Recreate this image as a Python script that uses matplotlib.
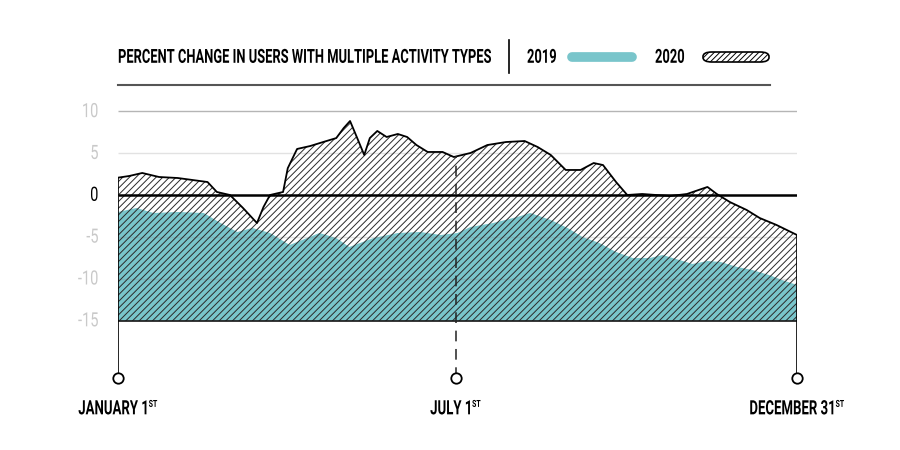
import matplotlib
matplotlib.use('Agg')
import matplotlib.pyplot as plt
from matplotlib.patches import FancyBboxPatch
from matplotlib.lines import Line2D
from matplotlib.patheffects import AbstractPathEffect
from matplotlib.transforms import Affine2D

plt.rcParams['font.family'] = ['Roboto', 'DejaVu Sans']
plt.rcParams['hatch.linewidth'] = 0.7

# day of year -> percent change
days_2020 = [0, 6, 13, 22, 32, 40, 48, 53, 60, 67, 74.5, 78, 81.5, 88.5, 91, 96,
             103, 110, 117, 121, 124.4, 128, 132, 135, 139, 144, 150, 155, 160,
             166, 174, 180, 189, 198, 208, 218, 225, 232, 240, 248, 255, 260,
             267, 273, 281, 296, 305, 316, 321, 328, 337, 344, 353, 364]
vals_2020 = [2.07, 2.27, 2.63, 2.15, 2.03, 1.79, 1.55, 0.36, 0.0, -1.55, -3.35,
             -1.43, 0.0, 0.36, 3.2, 5.5, 5.85, 6.33, 6.8, 8.0, 8.84, 6.93, 4.78,
             6.8, 7.65, 6.93, 7.29, 6.93, 5.97, 5.14, 5.14, 4.54, 5.02, 5.97,
             6.33, 6.45, 5.73, 4.78, 2.99, 2.99, 3.82, 3.58, 1.55, 0.0, 0.12,
             -0.12, 0.12, 0.96, 0.12, -0.84, -1.79, -2.75, -3.58, -4.78]

days_2019 = [0, 10, 19, 32, 46, 55, 64, 72, 81.5, 92, 96, 108, 117, 124, 137,
             150, 162, 173, 182, 189, 201, 214, 221, 232, 241, 249, 258, 267,
             276, 285, 292, 301, 308, 316, 323, 332, 340, 349, 356, 364]
vals_2019 = [-2.03, -1.55, -2.15, -2.03, -2.15, -3.35, -4.42, -3.94, -4.54,
             -5.97, -5.62, -4.54, -5.14, -6.21, -5.14, -4.54, -4.42, -4.78,
             -4.54, -3.82, -3.35, -2.63, -2.15, -2.99, -3.94, -5.02, -5.73,
             -6.81, -7.53, -7.53, -7.17, -7.77, -8.24, -7.89, -8.0, -8.6,
             -8.96, -9.56, -10.16, -10.75]

ytick_vals = [10, 5, 0, -5, -10, -15]
date_days = [0, 181, 364]
date_labels = ['JANUARY 1', 'JULY 1', 'DECEMBER 31']
title = 'PERCENT CHANGE IN USERS WITH MULTIPLE ACTIVITY TYPES'

TEAL = '#79c5cb'
W, H = 900, 450


class Tall(AbstractPathEffect):
    """draw the glyphs stretched vertically (fakes a condensed face)"""
    def __init__(self, sy):
        super().__init__()
        self.sy = sy

    def draw_path(self, renderer, gc, tpath, affine, rgbFace=None):
        ext = tpath.get_extents()
        cy = (ext.y0 + ext.y1) / 2
        tr = Affine2D().translate(0, -cy).scale(1, self.sy).translate(0, cy) + affine
        renderer.draw_path(gc, tpath, tr, rgbFace)


def fx(px):
    return px / W


def fy(py):
    return 1 - py / H


fig = plt.figure(figsize=(9, 4.5), dpi=100)
ax = fig.add_axes([fx(118), fy(390), fx(797) - fx(118), fy(100) - fy(390)])
ax.set_xlim(0, 364)
ax.set_ylim(-23.3, 11.35)
ax.axis('off')

base = -15

# grid
ax.hlines(10, 0, 364, color='#b5b5b5', lw=1, zorder=0)
ax.hlines(5, 0, 364, color='#e2e2e2', lw=1, zorder=0)

# 2019 teal area
ax.fill_between(days_2019, base, vals_2019, facecolor=TEAL, lw=0, zorder=1)
ax.hlines([-5, -10], 0, 364, color='#888888', lw=1, alpha=0.25, zorder=2)

# 2020 hatched area
ax.fill_between(days_2020, base, vals_2020, facecolor='none', edgecolor='#2a2a2a',
                hatch='/////', lw=0, zorder=3)
ax.plot(days_2020, vals_2020, color='black', lw=1.3, zorder=5)

ax.hlines(0, 0, 364, color='black', lw=1.8, zorder=6)
ax.hlines(base, 0, 364, color='black', lw=1.1, zorder=6)

# stems + circles
circ_y = -21.86
ax.vlines(0, circ_y, vals_2020[0], color='black', lw=1.2, zorder=6)
ax.vlines(364, circ_y, vals_2020[-1], color='black', lw=1.2, zorder=6)
ax.plot([181, 181], [circ_y, 4.6], color='#222222', lw=1.1, ls=(0, (7, 5)), zorder=6)
ax.plot(date_days, [circ_y] * 3, 'o', ms=7.5, mfc='white', mec='black', mew=1.3,
        zorder=7, clip_on=False)

# y labels
for v in ytick_vals:
    ax.text(-10.5, v, str(v), ha='right', va='center', fontsize=10.5,
            color='black' if v == 0 else '#c9c9c9', path_effects=[Tall(1.35)])

# date labels
for d, lab in zip(date_days, date_labels):
    t = ax.annotate(lab, xy=(d, circ_y), xytext=(-3, -22), textcoords='offset points',
                    ha='center', va='center', fontsize=9.5, fontweight='bold',
                    path_effects=[Tall(1.5)])
    ax.annotate('ST', xy=(1, 1), xycoords=t, xytext=(-0.5, 1.5), textcoords='offset points',
                ha='left', va='top', fontsize=5, fontweight='bold',
                path_effects=[Tall(1.4)])

# header
hdr = dict(va='center', fontsize=9.3, fontweight='bold', path_effects=[Tall(1.5)])
fig.text(fx(118), fy(57), title, ha='left', **hdr)
fig.add_artist(Line2D([fx(509), fx(509)], [fy(40), fy(73)], color='black', lw=1.2))
fig.text(fx(527), fy(57), '2019', ha='left', **hdr)
fig.add_artist(Line2D([fx(572), fx(632)], [fy(57), fy(57)], color=TEAL, lw=7,
                      solid_capstyle='round'))
fig.text(fx(655), fy(57), '2020', ha='left', **hdr)
fig.add_artist(FancyBboxPatch((fx(703), fy(62)), fx(66), fy(52) - fy(62),
                              boxstyle='round,pad=0,rounding_size=0.01',
                              facecolor='white', edgecolor='black', lw=1.2,
                              hatch='//////', transform=fig.transFigure))
fig.add_artist(Line2D([fx(118), fx(770)], [fy(85), fy(85)], color='#555555', lw=1.5))

fig.savefig('out.png', dpi=100, facecolor='white')
